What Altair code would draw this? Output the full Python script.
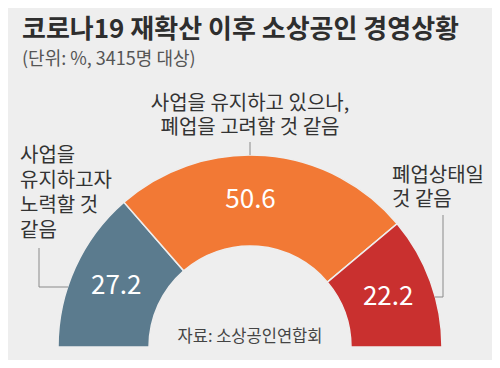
import math
import altair as alt
import pandas as pd

# ---- data ----
categories = [
    "사업을 유지하고자 노력할 것 같음",
    "사업을 유지하고 있으나, 폐업을 고려할 것 같음",
    "폐업상태일 것 같음",
]
values = [27.2, 50.6, 22.2]
order = [1, 2, 3]
colors = ["#5b7b8e", "#f27935", "#c9302f"]

title_text = "코로나19 재확산 이후 소상공인 경영상황"
subtitle_text = "(단위: %, 3415명 대상)"
source_text = "자료: 소상공인연합회"
label_left = ["사업을", "유지하고자", "노력할 것", "같음"]
label_top = ["사업을 유지하고 있으나,", "폐업을 고려할 것 같음"]
label_right = ["폐업상태일", "것 같음"]

df = pd.DataFrame({"category": categories, "value": values, "order": order})

FONT = "Noto Sans CJK KR"
CX, CY = 242, 339
R_OUT, R_IN = 192, 101
THETA_SCALE = alt.Scale(domain=[0, 100], range=[-math.pi / 2, math.pi / 2])

color = alt.Color(
    "category:N",
    scale=alt.Scale(domain=categories, range=colors),
    legend=None,
)

arcs = alt.Chart(df).mark_arc(
    x=CX, y=CY, outerRadius=R_OUT, innerRadius=R_IN,
    stroke="#eeeeee", strokeWidth=1.5,
).encode(
    theta=alt.Theta("value:Q", stack=True, scale=THETA_SCALE),
    order=alt.Order("order:Q"),
    color=color,
)

# label positions derived from the data: middle of each stacked slice
lab_base = alt.Chart(df).transform_window(
    cum="sum(value)", sort=[alt.SortField("order")]
).transform_calculate(mid="datum.cum - datum.value / 2")


def value_layer(flt, dx=0):
    return lab_base.transform_filter(flt).mark_text(
        x=CX, y=CY, radius=147, dx=dx, font=FONT, fontSize=26, color="white",
        align="center", baseline="middle",
    ).encode(
        theta=alt.Theta("mid:Q", scale=THETA_SCALE),
        text=alt.Text("value:Q", format=".1f"),
    )


vals_side = value_layer("datum.order != 2")
vals_mid = value_layer("datum.order == 2", dx=-11)

one = alt.Data(values=[{"k": 0}])


def txt(text, x, y, size, align="left", weight="normal", col="#333333"):
    return alt.Chart(one).mark_text(
        font=FONT, fontSize=size, align=align, baseline="middle",
        fontWeight=weight, color=col,
    ).encode(x=alt.value(x), y=alt.value(y), text=alt.value(text))


def block(lines, x, y0, size, lh, align="left"):
    return [txt(s, x, y0 + i * lh, size, align=align) for i, s in enumerate(lines)]


def rule(x1, y1, x2, y2):
    return alt.Chart(one).mark_rule(color="#8a8a8a", strokeWidth=1).encode(
        x=alt.value(x1), y=alt.value(y1), x2=alt.value(x2), y2=alt.value(y2)
    )


layers = [
    arcs,
    vals_side,
    vals_mid,
    txt(title_text, 14, 22, 26, weight="bold", col="#2e2e2e"),
    txt(subtitle_text, 14, 52, 18, col="#555555"),
    *block(label_left, 12, 148, 20, 25),
    *block(label_top, CX, 96, 20, 24, align="center"),
    *block(label_right, 384, 168, 20, 24),
    txt(source_text, CX, 329, 16.5, align="center", col="#444444"),
    rule(31, 240, 31, 279),
    rule(31, 279, 60, 279),
    rule(242, 134, 242, 147),
    rule(435, 207, 435, 289),
    rule(427, 289, 435, 289),
]

chart = alt.layer(*layers).properties(
    width=484, height=352, autosize="none", padding=0, background="#eeeeee"
).configure_view(stroke=None)

chart.save("out.html", embed_options={"renderer": "svg", "actions": False})
